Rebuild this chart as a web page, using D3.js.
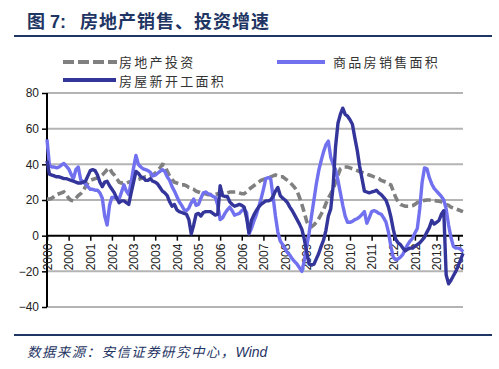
<!DOCTYPE html>
<html><head><meta charset="utf-8">
<script src="https://cdn.jsdelivr.net/npm/d3@7"></script>
<style>body{margin:0;background:#fff}svg{display:block}</style>
</head><body><svg id="c" width="499" height="369"></svg>
<script>
// Monthly series, 2000-03 .. 2014-08 (%)
const investment = [
20.5,20.5,21,22,23,23.5,24,24.5,23,21,19.8,19.5,
21,22.5,23.5,25,27.5,29.5,31,31.5,32,32.5,33,34,
35.5,37,38,35.5,34,32,30,29.5,30,29.5,30,30.5,
31,31,31.5,32,32.5,33,33,33.5,34,35,36.5,38,
40,39.5,36,33.5,31.5,30,29.5,29,28.5,28.5,28,27,
26.5,26,25,24.5,24,23.5,23.5,23,23,23,23,23.5,
24,24,24,24,24.5,24.5,24.5,24.5,24,23.5,23.5,24.5,
26,27,28,29,30,31,31.5,32,32.5,33,33.5,34,
33.5,33,33,32,31,30,28.5,27,25,21.5,17.5,13,
8,5.5,5,6,7.5,9.5,12,14.5,18,21,23.5,26,
30,34,37.5,38.5,38.5,38.5,38,37.5,37,36.5,36,35.5,
35,34.5,34,33.5,33,32.5,32,31,30.5,30,29,28.5,
25,21.5,19,17.5,17,16.5,16.5,16.5,16.8,17.5,18.5,19,
19.5,19.8,20,20,20,19.8,19.5,19.3,19,18.2,17.5,17,
16,15.5,15,14.5,14,13.5];
const sales = [
54,39.5,38.5,38.5,38,38.5,39.5,40.5,39,37.5,34.5,32,
37,38.5,31.5,30,29,27.5,26,26,25.5,25.5,24,21,
11,6,17,21.5,21.5,21,20.5,24.5,28.5,25,23,30,
38,45,40,38.5,37.5,37,36.5,35.5,33.5,34,35,36,
37,36,33,31,27.5,25,22,19,17,14.5,14,15.5,
18.5,20.5,17,17.5,21,24,24.5,23.5,23,22,21.5,17,
9,10,12.5,14.5,16,14,11.5,12,12.5,14,15,13,
1,4,8,11.5,16,20.5,26,32,32.5,32,22,11,
2,-3,-5,-7.5,-9.5,-11,-13,-14.5,-16,-18,-20,-14,
-6,1.5,11,20,29,36.5,42,47,51,53,44,40,
37,31,24,17,11,7.5,7.5,8,9,9.5,10.5,12,
13.5,7,10,13.5,14,13.5,12.5,12,10,7.5,2,-6,
-12,-13.5,-13,-12,-10.5,-7.5,-5,-3,-1.5,1.5,4,15,
30,38,37.5,32.5,29,26.5,25,23.5,22,20,15,6,
-1,-6,-7,-7,-7.5,-9];
const newStarts = [
42,34.5,34,33.5,33,33,32.5,32,32,31.5,31,30.5,
30,29.5,29.5,30,30.5,33.5,36.5,37,36.5,34,30,27.5,
30,30.5,28,26,24,21,18.5,19.5,19.5,18.5,17.5,24,
30,36,35,33,32.5,31,31,32,30.5,30,29,27,
25,24,22.5,19,16.5,17.5,14.5,13.5,13,12.5,12,9,
1,6,12,12.5,11,13,13.5,13.5,13.5,12.5,11.5,12,
28,22.5,22,22,19,17.5,16.5,17,17.5,17,16,10,
1.5,8.5,11.5,14,16,17.5,18.5,19.5,19.5,20,22,25,
27,22.5,21,20,18.5,16,14,11.5,9,6.5,3.5,-2,
-9,-16,-16.5,-16,-13,-10,-6,-2.5,3,11,15,28,
50,63,68,71.5,68,67,65,62.5,55,48,39,32,
25,24.5,24,24.5,24.8,25.5,24,23,21.5,19.8,16,10.5,
3.5,-2,-4,-5,-7,-8.5,-7.5,-7,-7,-6,-5,-4,
-2.5,-0.8,2,4.5,8.5,6.5,7.5,8.5,12,14,-22,-27,
-25,-22.5,-20,-17,-13.5,-10];
const tickLabels = ["2000","2000","2001","2002","2003","2003","2004","2005","2006","2006",
                    "2007","2008","2009","2009","2010","2011","2012","2012","2013","2014"];
const tickEvery = 9;
const yTicks = [80,60,40,20,0,-20,-40];
const seriesNames = ["房地产投资","商品房销售面积","房屋新开工面积"];
const months = d3.timeMonth.range(new Date(2000,2,1), new Date(2014,8,1));

const svg = d3.select("#c");
const navy = "#1f3564";
const colors = {inv:"#808080", sales:"#7171ef", starts:"#34359a"};
const numFont = "'Liberation Sans', Arial, sans-serif";
const cjk = "'Noto Sans CJK SC', sans-serif";

const x = d3.scalePoint().domain(months.map((d,i)=>i)).range([47,463]);
const y = d3.scaleLinear().domain([-40,80]).range([307,93]);

// title
const t = svg.append("text").attr("y",28).attr("fill",navy)
  .attr("font-family",cjk).attr("font-weight","bold").attr("font-size",18);
t.append("tspan").attr("x",27).text("图");
t.append("tspan").attr("x",50).attr("font-family",numFont).text("7:");
t.append("tspan").attr("x",80).attr("letter-spacing",1).text("房地产销售、投资增速");
svg.append("line").attr("x1",14).attr("x2",492).attr("y1",36).attr("y2",36)
  .attr("stroke",navy).attr("stroke-width",2);
svg.append("line").attr("x1",14).attr("x2",492).attr("y1",335).attr("y2",335)
  .attr("stroke",navy).attr("stroke-width",2);
const src = svg.append("text").attr("x",27).attr("y",357).attr("fill",navy)
  .attr("font-family",cjk).attr("font-style","italic").attr("font-size",13.5);
src.append("tspan").attr("letter-spacing",1.4).text("数据来源：安信证券研究中心，");
src.append("tspan").attr("font-family",numFont).attr("font-size",14).text("Wind");

// legend
const leg = [
  {name:seriesNames[0], c:colors.inv, dash:"11,4", x1:63, x2:117, ty:67, ly:62, tx:119},
  {name:seriesNames[1], c:colors.sales, dash:null, x1:277, x2:325, ty:67, ly:62, tx:333},
  {name:seriesNames[2], c:colors.starts, dash:null, x1:63, x2:116, ty:86, ly:80, tx:119}
];
leg.forEach(l=>{
  svg.append("line").attr("x1",l.x1).attr("x2",l.x2).attr("y1",l.ly).attr("y2",l.ly)
    .attr("stroke",l.c).attr("stroke-width",4).attr("stroke-dasharray",l.dash);
  svg.append("text").attr("x",l.tx).attr("y",l.ty).attr("fill","#333")
    .attr("font-family",cjk).attr("font-size",13).attr("letter-spacing",2.3).text(l.name);
});

// gridlines
svg.append("g").selectAll("line").data(yTicks.filter(v=>v!==0)).join("line")
  .attr("x1",47).attr("x2",463).attr("y1",d=>y(d)).attr("y2",d=>y(d))
  .attr("stroke","#b4b4b4").attr("stroke-width",2);

// y axis
const ya = svg.append("g").attr("transform","translate(47,0)")
  .call(d3.axisLeft(y).tickValues(yTicks).tickSize(5).tickPadding(3).tickFormat(d3.format("d")));
ya.select(".domain").attr("stroke","#000").attr("stroke-width",2).attr("d",`M0,${y(80)}V${y(-40)}`);
ya.selectAll(".tick line").attr("stroke","#000").attr("stroke-width",1.5);
ya.selectAll(".tick text").attr("font-family",numFont).attr("font-size",12).attr("fill","#222");

// x axis
const tickIdx = tickLabels.map((d,k)=>k*tickEvery);
const xa = svg.append("g").attr("transform",`translate(0,${y(0)})`)
  .call(d3.axisBottom(x).tickValues(tickIdx).tickSize(5).tickFormat((d,k)=>tickLabels[k]));
xa.select(".domain").attr("stroke","#000").attr("stroke-width",2).attr("d",`M47,0H463`);
xa.selectAll(".tick line").attr("stroke","#000").attr("stroke-width",1.5);
xa.selectAll(".tick text").attr("font-family",numFont).attr("font-size",12).attr("fill","#222")
  .attr("text-anchor","end").attr("dy",null).attr("y",null)
  .attr("transform","translate(4.3,8) rotate(-90)");

// lines
const line = d3.line().x((d,i)=>x(i)).y(d=>y(d));
svg.append("path").datum(investment).attr("d",line).attr("fill","none")
  .attr("stroke",colors.inv).attr("stroke-width",3.6).attr("stroke-dasharray","8,4");
svg.append("path").datum(sales).attr("d",line).attr("fill","none")
  .attr("stroke",colors.sales).attr("stroke-width",3.4).attr("stroke-linejoin","round");
svg.append("path").datum(newStarts).attr("d",line).attr("fill","none")
  .attr("stroke",colors.starts).attr("stroke-width",3.4).attr("stroke-linejoin","round");
</script></body></html>
